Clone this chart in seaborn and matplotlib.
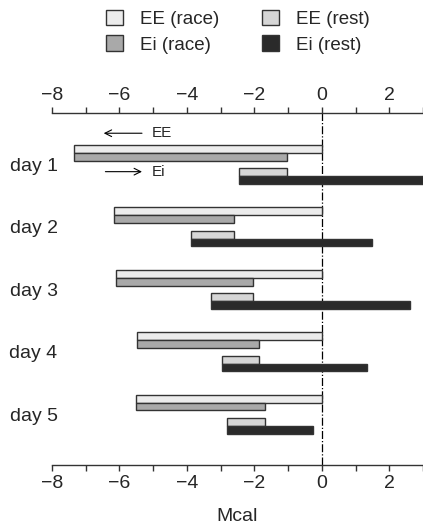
import numpy as np
import pandas as pd
import matplotlib
matplotlib.use("Agg")
import matplotlib.pyplot as plt
from matplotlib.patches import Patch
from matplotlib.ticker import MultipleLocator
import seaborn as sns

# energy balance per day (Mcal)
days = ["day 1", "day 2", "day 3", "day 4", "day 5"]
ee_race = [7.34, 6.17, 6.09, 5.49, 5.51]
ei_race = [6.32, 3.58, 4.06, 3.63, 3.82]
ee_rest = [1.44, 1.30, 1.27, 1.10, 1.13]
ei_rest = [5.46, 5.37, 5.90, 4.30, 2.57]

series = ["EE (race)", "Ei (race)", "EE (rest)", "Ei (rest)"]
colors = ["#ececec", "#a9a9a9", "#d6d6d6", "#2a2a2a"]

sns.set_theme(style="ticks")
plt.rcParams['font.family'] = ['Liberation Sans', 'DejaVu Sans']

# running balance: EE goes left, Ei goes right
df = pd.DataFrame({"day": days, "EE (race)": ee_race, "Ei (race)": ei_race,
                   "EE (rest)": ee_rest, "Ei (rest)": ei_rest})
signs = np.array([-1, 1, -1, 1])
steps = df[series].values * signs
ends = np.cumsum(steps, axis=1)
starts = ends - steps

fig = plt.figure(figsize=(4.23, 5.25), dpi=100)
ax = fig.add_axes([0.123, 0.1143, 0.877, 0.670])

offsets = [-0.25, -0.125, 0.125, 0.25]
h = 0.125
ypos = np.arange(len(days))
for k, name in enumerate(series):
    left = np.minimum(starts[:, k], ends[:, k])
    width = np.abs(steps[:, k])
    ax.barh(ypos + offsets[k], width, left=left, height=h, color=colors[k],
            edgecolor="#333333", linewidth=1.0, zorder=2)

ax.axvline(0, color="black", linestyle="-.", linewidth=0.9, zorder=1)

# direction hints
ax.annotate("", xy=(-6.55, -0.5), xytext=(-5.25, -0.5),
            arrowprops=dict(arrowstyle="->", color="black", lw=0.8))
ax.text(-5.05, -0.5, "EE", fontsize=11, va="center", ha="left")
ax.annotate("", xy=(-5.25, 0.115), xytext=(-6.5, 0.115),
            arrowprops=dict(arrowstyle="->", color="black", lw=0.8))
ax.text(-5.05, 0.115, "Ei", fontsize=11, va="center", ha="left")

ax.set_xlim(-8, 3)
ax.set_ylim(4.81, -0.82)
ax.xaxis.set_minor_locator(MultipleLocator(1))
ticks = np.arange(-8, 3, 2)
ax.set_xticks(ticks)
ax.set_xticklabels([f"{t:d}".replace("-", "\u2212") for t in ticks])
ax.tick_params(axis="x", which="both", top=True, labeltop=True, bottom=True,
               labelbottom=True, direction="out", length=4, width=1,
               labelsize=14, pad=3, color="#333333")
ax.set_yticks(ypos)
ax.set_yticklabels(days)
ax.tick_params(axis="y", length=0, labelsize=14, pad=-4)

sns.despine(ax=ax, left=True, right=True, top=False, bottom=False)
for s in ["top", "bottom"]:
    ax.spines[s].set_color("#333333")
    ax.spines[s].set_linewidth(1)

ax.set_xlabel("Mcal", fontsize=14, labelpad=12)
ax.set_ylabel("")

handles = [Patch(facecolor=c, edgecolor="#333333", linewidth=1.0, label=n)
           for c, n in zip(colors, series)]
fig.legend(handles=handles, ncol=2, loc="center", bbox_to_anchor=(0.562, 0.940),
           frameon=False, fontsize=13.5, handlelength=0.9, handleheight=0.9,
           handletextpad=0.9, columnspacing=2.3, labelspacing=0.4)

fig.savefig("out.png", dpi=100)
